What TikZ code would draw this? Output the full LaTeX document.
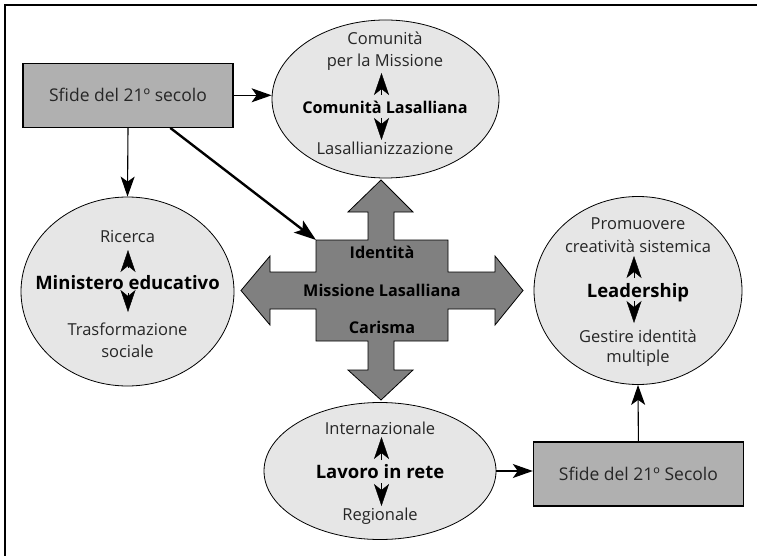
\documentclass[tikz,border=0pt]{standalone}
\usepackage{fontspec}
\setmainfont{Open Sans}
\usetikzlibrary{shapes.geometric,arrows.meta,calc}
\definecolor{ellfill}{RGB}{230,230,230}
\definecolor{boxfill}{RGB}{176,176,176}
\definecolor{crossfill}{RGB}{128,128,128}
\tikzset{
  ell/.style={ellipse,draw=black,line width=0.8pt,fill=ellfill,inner sep=0pt},
  sfide/.style={rectangle,draw=black,line width=1.2pt,fill=boxfill,inner sep=0pt,font=\fontsize{17.5}{20}\selectfont,text=black!85},
  reg/.style={inner sep=0pt,font=\fontsize{16.5}{19}\selectfont,text=black!85},
  bigb/.style={inner sep=0pt,font=\fontsize{18.5}{21}\selectfont\bfseries},
  midb/.style={inner sep=0pt,font=\fontsize{16.2}{19}\selectfont\bfseries},
  conn/.style={line width=1.1pt,-{Stealth[length=20pt,width=14pt,inset=5pt]}},
  headup/.style={-{Stealth[length=22pt,width=15pt,inset=6pt]}},
}
\begin{document}
\begin{tikzpicture}[x=1pt,y=-1pt]
\useasboundingbox (0,0) rectangle (757,556);
\fill[white] (0,0) rectangle (757,556);
% frame (top and left only)
\draw[line width=2.5pt] (757,5) -- (5,5) -- (5,556);

% central cross
\draw[fill=crossfill,line width=0.8pt,line join=miter]
 (381,180) -- (413,212) -- (394,212) -- (394,240) -- (448,240) -- (448,272)
 -- (495,272) -- (495,256) -- (523,290.5) -- (495,325) -- (495,309) -- (448,309)
 -- (448,341) -- (394,341) -- (394,370) -- (413,370) -- (381,400) -- (348,370)
 -- (368,370) -- (368,341) -- (316,341) -- (316,309) -- (270,309) -- (270,325)
 -- (241,290.5) -- (270,256) -- (270,272) -- (316,272) -- (316,240) -- (368,240)
 -- (368,212) -- (348,212) -- cycle;
\coordinate (crossTL) at (316,240);
\node[midb] (identita) at (382,252) {Identità};
\node[midb] (missione) at (382,290) {Missione Lasalliana};
\node[midb] (carisma) at (382,327) {Carisma};

% boxes
\node[sfide,minimum width=210pt,minimum height=64pt] (box1) at (128,95.3) {Sfide del 21º secolo};
\node[sfide,minimum width=210pt,minimum height=64pt] (box2) at (638.4,474) {Sfide del 21º Secolo};

% ellipses
\node[ell,minimum width=227pt,minimum height=158pt] (com) at (385.5,99) {};
\node[ell,minimum width=213pt,minimum height=189pt] (min) at (127.5,291.5) {};
\node[ell,minimum width=208pt,minimum height=188pt] (lead) at (638,290.5) {};
\node[ell,minimum width=232pt,minimum height=137pt] (lav) at (380,471) {};

% Comunità
\node[reg] (c1) at (385,38) {Comunità};
\node[reg] (c2) at (385,62) {per la Missione};
\node[midb] (c3) at (385,107) {Comunità Lasalliana};
\node[reg] (c4) at (385,148) {Lasallianizzazione};
\coordinate (cua) at (381.5,95); \coordinate (cut) at (381.5,73);
\coordinate (cda) at (381.5,118); \coordinate (cdt) at (381.5,140);
\draw[headup] (cua) -- (cut);
\draw[headup] (cda) -- (cdt);

% Ministero
\node[reg] (m1) at (127.5,237) {Ricerca};
\node[bigb] (m2) at (127.5,283) {Ministero educativo};
\node[reg] (m3) at (127.5,329) {Trasformazione};
\node[reg] (m4) at (127.5,351) {sociale};
\coordinate (mua) at (128,268); \coordinate (mut) at (128,250);
\coordinate (mda) at (128,293); \coordinate (mdt) at (128,312);
\draw[headup] (mua) -- (mut);
\draw[headup] (mda) -- (mdt);

% Leadership
\node[reg] (l1) at (638,224) {Promuovere};
\node[reg] (l2) at (638,246) {creatività sistemica};
\node[bigb] (l3) at (638,293) {Leadership};
\node[reg] (l4) at (638,336) {Gestire identità};
\node[reg] (l5) at (638,358) {multiple};
\coordinate (lua) at (634,278); \coordinate (lut) at (634,256);
\coordinate (lda) at (634,301); \coordinate (ldt) at (634,323);
\draw[headup] (lua) -- (lut);
\draw[headup] (lda) -- (ldt);

% Lavoro
\node[reg] (v1) at (380,428) {Internazionale};
\node[bigb] (v2) at (380,472) {Lavoro in rete};
\node[reg] (v3) at (380,516) {Regionale};
\coordinate (vua) at (381.5,460); \coordinate (vut) at (381.5,437);
\coordinate (vda) at (381.5,483); \coordinate (vdt) at (381.5,506);
\draw[headup] (vua) -- (vut);
\draw[headup] (vda) -- (vdt);

% connectors
\draw[conn] (box1.east) -- (box1.east -| com.west);
\draw[conn] (box1.south) -- (min.north);
\draw[line width=2.4pt,-{Stealth[length=22pt,width=15pt,inset=5pt]}] (box1) -- (crossTL);
\draw[conn] (box2.north) -- (lead.south);
\draw[conn] (lav.east) -- (lav.east -| box2.west);
\end{tikzpicture}
\end{document}
